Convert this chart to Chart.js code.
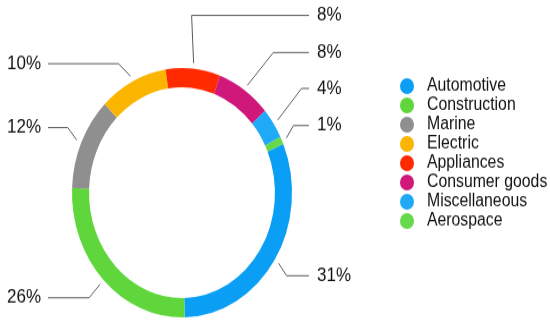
<!DOCTYPE html>
<html>
<head>
<meta charset="utf-8">
<script src="https://cdn.jsdelivr.net/npm/chart.js@4.4.1/dist/chart.umd.min.js"></script>
<style>
  html, body { margin: 0; padding: 0; background: #fff; }
  #page { width: 550px; height: 323px; overflow: hidden; }
  #wrap {
    width: 550px;
    height: 285px;
    transform: scaleY(1.13333);
    transform-origin: 0 0;
  }
</style>
</head>
<body>
<div id="page">
  <div id="wrap">
    <canvas id="ring" width="550" height="285"></canvas>
  </div>
</div>
<script>
// data
const categories = ['Automotive', 'Construction', 'Marine', 'Electric', 'Appliances', 'Consumer goods', 'Miscellaneous', 'Aerospace'];
const shares = [31, 26, 12, 10, 8, 8, 4, 1];
const sliceColors = ['#0a9ff5', '#5fd63c', '#8f8f8f', '#f9b500', '#ff2a00', '#d0177a', '#1fa9f6', '#66d84a'];

// leader line bends (dx, dy from the anchor point just outside each slice)
const leaderBends = [[8, 11], [-11, 12], [-9, -11], [-12, -11], [-2, -42], [26, -29], [24, -28], [7, -11]];

const leaderLabels = {
  id: 'leaderLabels',
  afterDatasetsDraw(chart) {
    const ctx = chart.ctx;
    const arcs = chart.getDatasetMeta(0).data;
    ctx.save();
    ctx.font = '17px "Liberation Sans", Arial, sans-serif';
    ctx.textBaseline = 'middle';
    arcs.forEach((arc, i) => {
      const p = arc.getProps(['x', 'y', 'startAngle', 'endAngle', 'outerRadius'], true);
      const mid = (p.startAngle + p.endAngle) / 2;
      const r = p.outerRadius + 5;
      const ax = p.x + Math.cos(mid) * r;
      const ay = p.y + Math.sin(mid) * r;
      const bx = ax + leaderBends[i][0];
      const by = ay + leaderBends[i][1];
      const right = bx > p.x;
      const ex = right ? 309 : 48;

      ctx.strokeStyle = '#5a5a5a';
      ctx.lineWidth = 1;
      ctx.beginPath();
      ctx.moveTo(ax, ay);
      ctx.lineTo(bx, by);
      ctx.lineTo(ex, by);
      ctx.stroke();

      ctx.fillStyle = '#111';
      ctx.textAlign = right ? 'left' : 'right';
      ctx.fillText(shares[i] + '%', right ? ex + 8 : ex - 7, by);
    });

    // legend
    ctx.font = '15.8px "Liberation Sans", Arial, sans-serif';
    ctx.textAlign = 'left';
    categories.forEach((name, i) => {
      const y = 76 + i * 17;
      ctx.fillStyle = sliceColors[i];
      ctx.beginPath();
      ctx.arc(407, y, 7, 0, Math.PI * 2);
      ctx.fill();
      ctx.fillStyle = '#111';
      ctx.fillText(name, 427, y);
    });
    ctx.restore();
  }
};

new Chart(document.getElementById('ring'), {
  type: 'doughnut',
  data: {
    labels: categories,
    datasets: [{
      data: shares,
      backgroundColor: sliceColors,
      borderWidth: 0
    }]
  },
  options: {
    responsive: false,
    animation: false,
    devicePixelRatio: 1,
    rotation: 67,
    cutout: '84.5%',
    layout: {
      padding: { left: 72, top: 60, right: 258, bottom: 5 }
    },
    plugins: {
      legend: { display: false },
      tooltip: { enabled: false }
    }
  },
  plugins: [leaderLabels]
});
</script>
</body>
</html>
